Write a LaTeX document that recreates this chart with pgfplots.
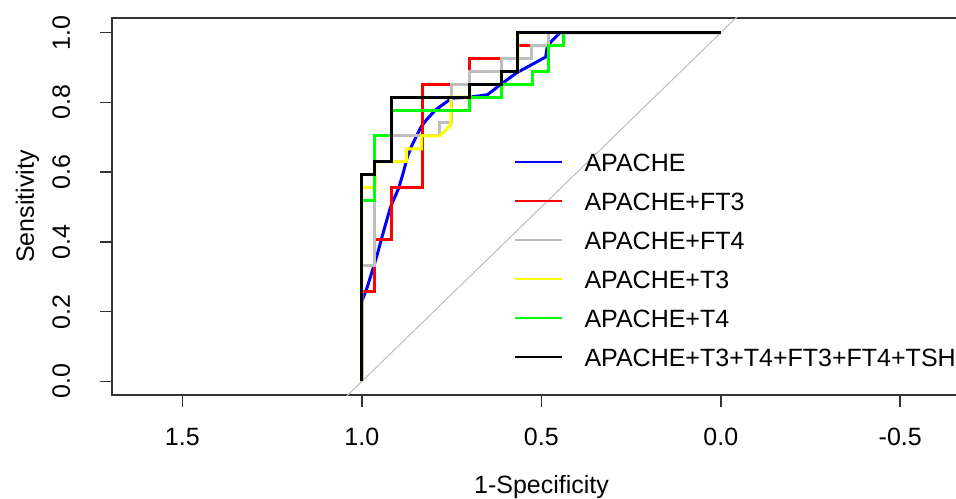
\documentclass[border=0pt]{standalone}
\usepackage{fontspec}
\setmainfont{Liberation Sans}
\usepackage{pgfplots}
\pgfplotsset{compat=1.18}

\definecolor{rblue}{HTML}{0000FF}
\definecolor{rred}{HTML}{FF0000}
\definecolor{rgray}{HTML}{BEBEBE}
\definecolor{ryellow}{HTML}{FFFF00}
\definecolor{rgreen}{HTML}{00FF00}
\definecolor{rframe}{HTML}{333333}

\begin{document}
\fontsize{12.5}{15}\selectfont
\begin{tikzpicture}
\begin{axis}[
    scale only axis,
    width=429.5pt, height=188.5pt,
    x dir=reverse,
    xmin=-0.697, xmax=1.696,
    ymin=-0.039, ymax=1.042,
    axis line style={rframe, line width=0.8pt},
    tick style={rframe, line width=0.8pt},
    tick align=outside,
    tick pos=left,
    major tick length=6pt,
    xtick={1.5,1,0.5,0,-0.5},
    xticklabels={1.5,1.0,0.5,0.0,-0.5},
    ytick={0,0.2,0.4,0.6,0.8,1},
    yticklabels={0.0,0.2,0.4,0.6,0.8,1.0},
    xticklabel style={anchor=base, yshift=-19pt},
    yticklabel style={xshift=-15pt, rotate=90, anchor=base},
    xlabel={1-Specificity},
    ylabel={Sensitivity},
    xlabel style={at={(axis description cs:0.5,-0.26)}, anchor=base},
    ylabel style={at={(axis description cs:-0.091,0.5)}, anchor=base},
    legend cell align=left,
    legend style={draw=none, fill=none, inner sep=0pt,
        at={(axis description cs:0.467,0.641)}, anchor=north west,
        row sep=10.5pt, column sep=11pt,
        nodes={inner sep=0pt, text height=9pt, text depth=0pt}},
    legend image code/.code={\draw[#1, line width=1pt] (0pt,0.4pt) -- (23.5pt,0.4pt);},
]

% chance line
\addplot[rgray, line width=0.5pt, forget plot] coordinates {(1.2,-0.2) (-0.2,1.2)};

% APACHE
\addplot[rblue, line width=1.5pt] coordinates {
    (1,0) (1,0.229) (0.985,0.27) (0.970,0.32) (0.958,0.36) (0.945,0.41)
    (0.934,0.45) (0.920,0.50) (0.897,0.555) (0.885,0.597) (0.873,0.644)
    (0.862,0.673) (0.847,0.705) (0.835,0.73) (0.82,0.75) (0.795,0.778)
    (0.75,0.812) (0.70,0.815) (0.65,0.822) (0.615,0.85) (0.57,0.884)
    (0.488,0.93) (0.483,0.963) (0.448,1) (0,1)
};
\addlegendentry{APACHE}

% APACHE+FT3
\addplot[rred, line width=1.5pt] coordinates {
    (1,0) (1,0.259) (0.964,0.259) (0.964,0.407) (0.917,0.407) (0.917,0.556)
    (0.832,0.556) (0.832,0.852) (0.699,0.852) (0.699,0.926) (0.565,0.926)
    (0.565,0.963) (0.481,0.963) (0.481,1) (0,1)
};
\addlegendentry{APACHE+FT3}

% APACHE+FT4
\addplot[rgray, line width=1.5pt] coordinates {
    (1,0) (1,0.333) (0.964,0.333) (0.964,0.704) (0.783,0.704) (0.783,0.741)
    (0.750,0.741) (0.750,0.852) (0.699,0.852) (0.699,0.889) (0.611,0.889)
    (0.611,0.926) (0.527,0.926) (0.527,0.963) (0.481,0.963) (0.481,1) (0,1)
};
\addlegendentry{APACHE+FT4}

% APACHE+T3
\addplot[ryellow, line width=1.5pt] coordinates {
    (1,0) (1,0.556) (0.964,0.556) (0.964,0.630) (0.875,0.630) (0.875,0.667)
    (0.834,0.667) (0.834,0.704) (0.783,0.704) (0.752,0.735) (0.752,0.815)
    (0.699,0.815) (0.699,0.852) (0.611,0.852) (0.611,0.889) (0.565,0.889)
    (0.565,1) (0,1)
};
\addlegendentry{APACHE+T3}

% APACHE+T4
\addplot[rgreen, line width=1.5pt] coordinates {
    (1,0) (1,0.519) (0.964,0.519) (0.964,0.704) (0.917,0.704) (0.917,0.778)
    (0.699,0.778) (0.699,0.815) (0.611,0.815) (0.611,0.852) (0.525,0.852)
    (0.525,0.889) (0.481,0.889) (0.481,0.963) (0.439,0.963) (0.439,1) (0,1)
};
\addlegendentry{APACHE+T4}

% APACHE+T3+T4+FT3+FT4+TSH
\addplot[black, line width=1.5pt] coordinates {
    (1,0) (1,0.593) (0.964,0.593) (0.964,0.630) (0.917,0.630) (0.917,0.815)
    (0.699,0.815) (0.699,0.852) (0.611,0.852) (0.611,0.889) (0.565,0.889)
    (0.565,1) (0,1)
};
\addlegendentry{APACHE+T3+T4+FT3+FT4+TSH}

\end{axis}
\pgfresetboundingbox
\useasboundingbox (-56pt,-51.5pt) rectangle (422pt,197.5pt);
\end{tikzpicture}
\end{document}
